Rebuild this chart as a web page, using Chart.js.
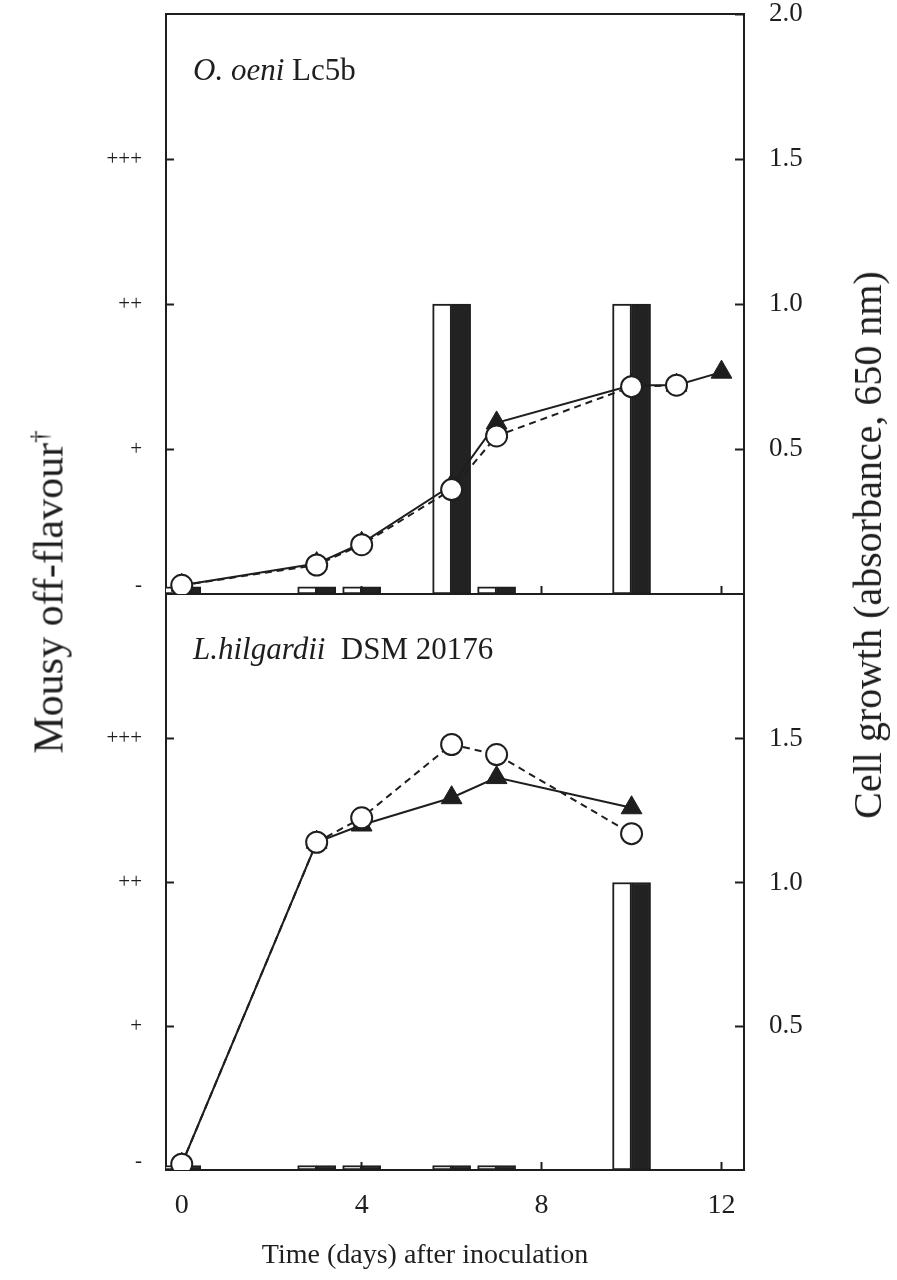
<!DOCTYPE html>
<html>
<head>
<meta charset="utf-8">
<script src="https://cdn.jsdelivr.net/npm/chart.js@4.4.0/dist/chart.umd.min.js"></script>
<style>
  body { margin: 0; background: #fff; width: 897px; height: 1280px; position: relative; overflow: hidden;
         font-family: "Liberation Serif", "Times New Roman", serif; color: #1e1e1e; }
  canvas { position: absolute; left: 0; }
  #topChart { top: 0; }
  #bottomChart { top: 594px; }
  .lbl { position: absolute; font-size: 28px; line-height: 28px; white-space: nowrap; }
  .panel { position: absolute; font-size: 31px; line-height: 31px; white-space: nowrap; }
  .vert { position: absolute; font-size: 40px; line-height: 40px; white-space: nowrap;
          transform: translate(-50%, -50%) rotate(-90deg); }
</style>
</head>
<body>
<canvas id="topChart" width="897" height="600"></canvas>
<canvas id="bottomChart" width="897" height="686"></canvas>

<div class="panel" style="left:193px; top:54px;"><i>O. oeni</i> Lc5b</div>
<div class="panel" style="left:193px; top:633px;"><i>L.hilgardii</i>&nbsp; DSM 20176</div>
<div class="vert" style="left:44px; top:592px; font-size:42px; line-height:42px;">Mousy off-flavour<sup style="font-size:25px">†</sup></div>
<div class="vert" style="left:868px; top:545px;">Cell growth (absorbance, 650 nm)</div>
<div class="lbl" style="left:425px; top:1240px; transform: translateX(-50%);">Time (days) after inoculation</div>

<script>
// x axis (days) and tick labels
const dayTicks = [0, 4, 8, 12];
const mousyLabels = ['-', '+', '++', '+++'];
const mousyTickPos = [0.06, 1, 2, 3];

// O. oeni Lc5b - cell growth (A650)
const lc5bCircleDays = [0, 3, 4, 6, 7, 10, 11];
const lc5bCircleOD   = [0.03, 0.10, 0.17, 0.36, 0.545, 0.715, 0.72];
const lc5bTriDays    = [0, 3, 4, 6, 7, 10, 11, 12];
const lc5bTriOD      = [0.03, 0.105, 0.175, 0.375, 0.59, 0.72, 0.72, 0.765];
// O. oeni Lc5b - mousy off-flavour score (0 = -, 1 = +, 2 = ++, 3 = +++)
const lc5bBarDays  = [0, 3, 4, 6, 7, 10];
const lc5bMousyA   = [0.05, 0.05, 0.05, 2, 0.05, 2];
const lc5bMousyB   = [0.05, 0.05, 0.05, 2, 0.05, 2];
const lc5bODTicks  = [0.5, 1, 1.5, 2];

// L. hilgardii DSM 20176
const dsmDays      = [0, 3, 4, 6, 7, 10];
const dsmCircleOD  = [0.02, 1.14, 1.225, 1.48, 1.445, 1.17];
const dsmTriOD     = [0.02, 1.14, 1.20, 1.295, 1.365, 1.26];
const dsmBarDays   = [0, 3, 4, 6, 7, 10];
const dsmMousyA    = [0.03, 0.03, 0.03, 0.03, 0.03, 2];
const dsmMousyB    = [0.03, 0.03, 0.03, 0.03, 0.03, 2];
const dsmODTicks   = [0.5, 1, 1.5];

const ink = '#1e1e1e';
const serif = '"Liberation Serif", "Times New Roman", serif';

function pairs(xs, ys) {
    return xs.map((x, i) => ({ x: x, y: ys[i] }));
}

// keep the tick label padding from eating into the chart area
function noPad(s) {
    s.paddingTop = 0;
    s.paddingBottom = 0;
    s.paddingLeft = 0;
    s.paddingRight = 0;
}

function makePanel(id, p) {
    const ctx = document.getElementById(id).getContext('2d');
    const scales = {
        x: {
            type: 'linear',
            position: 'bottom',
            min: -0.35,
            max: 12.5,
            offset: false,
            afterBuildTicks: s => { s.ticks = dayTicks.map(v => ({ value: v })); },
            afterFit: s => { s.height = p.xHeight; noPad(s); },
            grid: { drawOnChartArea: false, offset: false, tickLength: -8, tickColor: ink, tickWidth: 2 },
            border: { display: true, color: ink, width: 2 },
            ticks: { display: p.showX, color: ink, padding: 27, font: { family: serif, size: 28 } }
        },
        yL: {
            type: 'linear',
            position: 'left',
            min: 0,
            max: 4,
            afterBuildTicks: s => { s.ticks = mousyTickPos.map(v => ({ value: v })); },
            afterFit: s => { s.width = 166; noPad(s); },
            grid: {
                drawOnChartArea: false, tickLength: -8, tickWidth: 2,
                tickColor: c => (c.index === 0 ? 'rgba(0,0,0,0)' : ink)
            },
            border: { display: true, color: ink, width: 2 },
            ticks: {
                color: ink, padding: 32, font: { family: serif, size: 21 },
                callback: (v, i) => mousyLabels[i]
            }
        },
        y: {
            type: 'linear',
            position: 'right',
            min: 0,
            max: 2,
            afterBuildTicks: s => { s.ticks = p.odTicks.map(v => ({ value: v })); },
            afterFit: s => { s.width = 153; noPad(s); },
            grid: { drawOnChartArea: false, tickLength: -9, tickColor: ink, tickWidth: 2 },
            border: { display: true, color: ink, width: 2 },
            ticks: {
                color: ink, padding: 34, font: { family: serif, size: 27 },
                callback: v => v.toFixed(1)
            }
        }
    };
    if (p.frameTop) {
        scales.x2 = {
            type: 'linear',
            position: 'top',
            min: -0.35,
            max: 12.5,
            afterFit: s => { s.height = 0; noPad(s); },
            grid: { display: false },
            border: { display: true, color: ink, width: 2 },
            ticks: { display: false }
        };
    }

    return new Chart(ctx, {
        type: 'line',
        data: {
            datasets: [{
                type: 'line',
                label: 'circles',
                data: pairs(p.circleDays, p.circleOD),
                xAxisID: 'x',
                yAxisID: 'y',
                borderColor: ink,
                borderWidth: 2,
                borderDash: [7, 5],
                tension: 0,
                pointStyle: 'circle',
                pointRadius: 10.5,
                pointBorderWidth: 2,
                pointBorderColor: ink,
                pointBackgroundColor: '#fff'
            }, {
                type: 'line',
                label: 'triangles',
                data: pairs(p.triDays, p.triOD),
                xAxisID: 'x',
                yAxisID: 'y',
                borderColor: ink,
                borderWidth: 2,
                tension: 0,
                pointStyle: 'triangle',
                pointRadius: 12,
                pointBorderWidth: 1,
                pointBorderColor: ink,
                pointBackgroundColor: ink
            }, {
                type: 'bar',
                label: 'mousy A',
                data: pairs(p.barDays, p.mousyA),
                xAxisID: 'x',
                yAxisID: 'yL',
                backgroundColor: '#fff',
                borderColor: ink,
                borderWidth: 2,
                borderSkipped: false,
                barThickness: 19
            }, {
                type: 'bar',
                label: 'mousy B',
                data: pairs(p.barDays, p.mousyB),
                xAxisID: 'x',
                yAxisID: 'yL',
                backgroundColor: '#222',
                borderColor: ink,
                borderWidth: 2,
                borderSkipped: false,
                barThickness: 19
            }]
        },
        options: {
            responsive: false,
            animation: false,
            layout: { padding: { top: p.padTop, left: 0, right: 0, bottom: 0 }, autoPadding: false },
            plugins: { legend: { display: false }, tooltip: { enabled: false } },
            scales: scales
        }
    });
}

makePanel('topChart', {
    circleDays: lc5bCircleDays, circleOD: lc5bCircleOD,
    triDays: lc5bTriDays, triOD: lc5bTriOD,
    barDays: lc5bBarDays, mousyA: lc5bMousyA, mousyB: lc5bMousyB,
    odTicks: lc5bODTicks, showX: false, xHeight: 6, padTop: 14, frameTop: true
});

makePanel('bottomChart', {
    circleDays: dsmDays, circleOD: dsmCircleOD,
    triDays: dsmDays, triOD: dsmTriOD,
    barDays: dsmBarDays, mousyA: dsmMousyA, mousyB: dsmMousyB,
    odTicks: dsmODTicks, showX: true, xHeight: 110, padTop: 1, frameTop: false
});
</script>
</body>
</html>
